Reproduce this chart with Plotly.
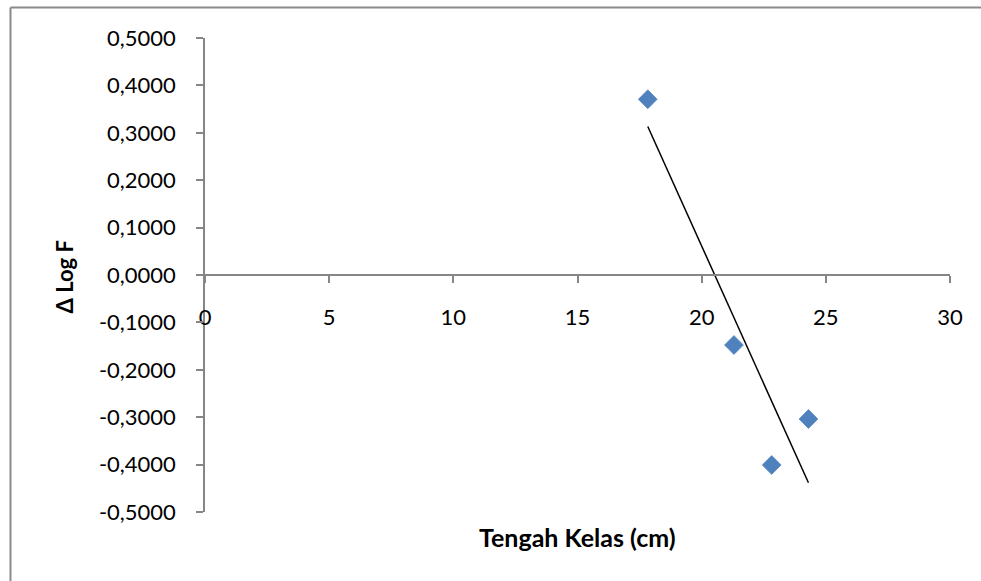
import numpy as np
import plotly.graph_objects as go

# Class midpoints (cm) and the change in log frequency
tengah_kelas = [17.83, 21.30, 22.82, 24.30]
delta_log_f = [0.3707, -0.1477, -0.4008, -0.3038]

x_ticks = [0, 5, 10, 15, 20, 25, 30]
y_ticks = [0.5, 0.4, 0.3, 0.2, 0.1, 0.0, -0.1, -0.2, -0.3, -0.4, -0.5]
y_tick_text = [f"{round(v, 4) + 0.0:.4f}".replace(".", ",") for v in y_ticks]

# Linear trend line over the observed range
slope, intercept = np.polyfit(tengah_kelas, delta_log_f, 1)
trend_x = [min(tengah_kelas), max(tengah_kelas)]
trend_y = [slope * v + intercept for v in trend_x]

FONT = "Lato, 'Open Sans', sans-serif"
AXIS_GRAY = "#868686"
FRAME_GRAY = "#8A8A8A"

fig = go.Figure()
fig.add_trace(go.Scatter(
    x=tengah_kelas, y=delta_log_f, mode="markers",
    marker=dict(symbol="diamond", size=14.5, color="#4F81BD",
                line=dict(color="#5B8BC6", width=0.8)),
    showlegend=False, hoverinfo="skip",
))
fig.add_trace(go.Scatter(
    x=trend_x, y=trend_y, mode="lines",
    line=dict(color="black", width=1.5),
    showlegend=False, hoverinfo="skip",
))

fig.update_layout(
    width=981, height=581,
    margin=dict(l=205, r=31, t=38, b=69),
    paper_bgcolor="white", plot_bgcolor="white",
    font=dict(family=FONT, size=22, color="black"),
    xaxis=dict(
        range=[0, 30], tickvals=x_ticks, ticktext=[str(v) for v in x_ticks],
        showgrid=False, zeroline=False,
        showline=True, linecolor=AXIS_GRAY, linewidth=1.5,
        ticks="outside", ticklen=7, tickcolor=AXIS_GRAY, tickwidth=1.5,
        anchor="free", position=0.5, ticklabelstandoff=16,
        tickfont=dict(family=FONT, size=22),
    ),
    yaxis=dict(
        range=[-0.5, 0.5], tickvals=y_ticks, ticktext=y_tick_text,
        showgrid=False, zeroline=False,
        showline=True, linecolor=AXIS_GRAY, linewidth=1.5,
        ticks="outside", ticklen=7, tickcolor=AXIS_GRAY, tickwidth=1.5,
        ticklabelstandoff=16,
        tickfont=dict(family=FONT, size=22),
    ),
    annotations=[
        dict(text="<b>Tengah Kelas (cm)</b>", xref="paper", yref="paper",
             x=0.5, y=-0.0527, showarrow=False,
             font=dict(family=FONT, size=25), xanchor="center", yanchor="middle"),
        dict(text="<b>Δ Log F</b>", xref="paper", yref="paper",
             x=-0.1879, y=0.4968, showarrow=False, textangle=-90,
             font=dict(family=FONT, size=22), xanchor="center", yanchor="middle"),
    ],
    shapes=[
        # chart frame: left and top edges
        dict(type="line", xref="paper", yref="paper",
             x0=-0.2611, x1=-0.2611, y0=-0.16, y1=1.0643,
             line=dict(color=FRAME_GRAY, width=2), layer="below"),
        dict(type="line", xref="paper", yref="paper",
             x0=-0.2611, x1=1.0416, y0=1.0643, y1=1.0643,
             line=dict(color=FRAME_GRAY, width=2), layer="below"),
    ],
)

fig.write_html("out.html")
